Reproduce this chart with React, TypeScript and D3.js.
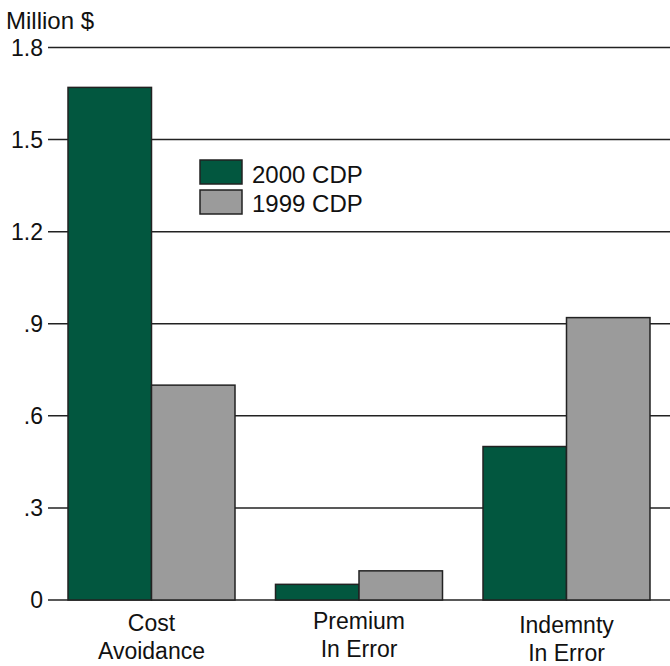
import React from "react";
import * as d3 from "d3";

const categories = [["Cost", "Avoidance"], ["Premium", "In Error"], ["Indemnty", "In Error"]];
const seriesNames = ["2000 CDP", "1999 CDP"];
const values2000 = [1.67, 0.051, 0.5];
const values1999 = [0.7, 0.095, 0.92];
const yTicks = [0, 0.3, 0.6, 0.9, 1.2, 1.5, 1.8];
const yTickLabels = ["0", ".3", ".6", ".9", "1.2", "1.5", "1.8"];
const labelOffsets = [0, -2, 2];

const W = 670;
const H = 666;
const colors = ["#02573f", "#9b9b9b"];
const font = "'Liberation Sans', Arial, sans-serif";

export default function App() {
  const y = d3.scaleLinear().domain([0, 1.8]).range([600, 47.5]);
  const x0 = d3.scaleBand<string>().domain(categories.map((_, i) => String(i))).range([68, 68 + 3 * 207.5]).paddingInner(0);
  const x1 = d3.scaleBand<string>().domain(["0", "1"]).range([0, 167]);
  const series = [values2000, values1999];
  const bx = (i: number) => x0(String(i)) as number;
  return (
    <svg width={W} height={H} style={{ position: "absolute", left: 0, top: 0 }} fontFamily={font}>
      <text x={6} y={29} fontSize={24} fill="#111">Million $</text>
      {yTicks.map((t, i) => (
        <g key={i}>
          <line x1={48} x2={W} y1={y(t)} y2={y(t)} stroke="#222" strokeWidth={1.5} />
          <text x={43} y={y(t) + 8} textAnchor="end" fontSize={23} fill="#111">{yTickLabels[i]}</text>
        </g>
      ))}
      {categories.map((c, i) =>
        series.map((s, j) => (
          <rect key={`${i}-${j}`} x={bx(i) + (x1(String(j)) as number)} width={x1.bandwidth()}
            y={y(s[i])} height={y(0) - y(s[i])} fill={colors[j]} stroke="#222" strokeWidth={1.5} />
        ))
      )}
      {categories.map((c, i) => (
        <g key={`l${i}`}>
          <text x={bx(i) + 83.5} y={631 + labelOffsets[i]} textAnchor="middle" fontSize={23} fill="#111">{c[0]}</text>
          <text x={bx(i) + 83.5} y={659 + labelOffsets[i]} textAnchor="middle" fontSize={23} fill="#111">{c[1]}</text>
        </g>
      ))}
      {seriesNames.map((n, j) => (
        <g key={`lg${j}`}>
          <rect x={200} y={160 + j * 30} width={42} height={24} fill={colors[j]} stroke="#222" strokeWidth={1.5} />
          <text x={252} y={183 + j * 29} fontSize={24} fill="#111">{n}</text>
        </g>
      ))}
    </svg>
  );
}
